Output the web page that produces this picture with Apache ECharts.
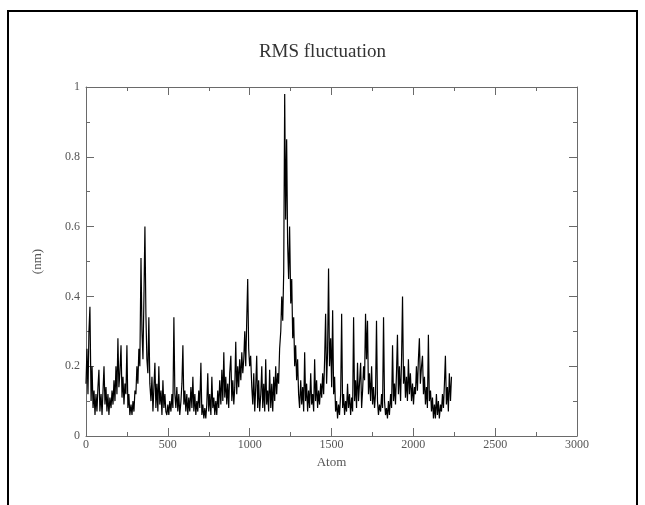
<!DOCTYPE html>
<html>
<head>
<meta charset="utf-8">
<script src="https://cdn.jsdelivr.net/npm/echarts@6/dist/echarts.min.js"></script>
<style>
html,body{margin:0;padding:0;background:#fff;}
#c{width:645px;height:505px;}
</style>
</head>
<body>
<div id="c"></div>
<script>
const titleText = 'RMS fluctuation';
const xName = 'Atom';
const yName = '(nm)';
const xTicks = [0, 500, 1000, 1500, 2000, 2500, 3000];
const yTicks = [0, 0.2, 0.4, 0.6, 0.8, 1];
const atomStep = 6.1;
const rmsf = [
0.15,0.25,0.12,0.30,0.37,0.10,0.20,
0.08,0.13,0.06,0.12,0.07,0.14,0.19,0.07,0.12,0.06,0.13,0.20,0.09,0.14,0.07,0.12,0.06,0.11,
0.08,0.13,0.09,0.16,0.10,0.20,0.12,0.28,0.14,0.18,0.26,0.11,0.17,0.09,0.15,0.12,0.26,
0.08,0.12,0.06,0.09,0.06,0.10,0.07,0.13,
0.12,0.20,0.15,0.25,0.20,0.51,0.30,0.22,0.40,0.60,0.35,0.22,0.18,0.34,0.15,
0.10,0.17,0.07,0.14,0.21,0.08,0.15,0.07,0.20,0.09,0.13,0.06,0.16,0.08,0.12,0.07,
0.06,0.09,0.06,0.10,0.07,0.12,0.08,
0.34,0.12,0.08,0.14,0.07,0.12,0.06,
0.10,0.15,0.26,0.09,0.13,0.07,0.12,0.06,
0.11,0.07,0.14,0.08,0.17,0.07,0.12,0.06,0.10,0.07,0.13,0.08,0.21,0.06,0.09,
0.05,0.08,0.05,0.09,0.18,0.07,0.12,0.06,0.17,0.08,0.11,0.06,
0.10,0.06,0.13,0.08,0.16,0.09,0.19,0.10,0.24,0.11,0.17,0.09,0.15,0.08,0.18,0.23,0.10,0.16,0.09,0.14,0.27,0.12,0.20,0.14,0.22,
0.16,0.24,0.18,0.22,0.30,0.20,0.33,0.45,0.25,0.20,0.23,0.14,
0.09,0.18,0.07,0.14,0.23,0.08,0.16,0.07,0.12,0.20,0.08,0.15,0.07,0.22,0.09,0.13,0.07,0.19,
0.08,0.15,0.07,0.17,0.10,0.20,0.12,0.18,0.15,0.25,0.30,0.40,0.33,0.47,
0.98,0.62,0.85,0.55,0.45,0.60,0.38,0.45,0.28,0.34,0.20,0.26,0.16,0.22,
0.12,0.08,0.16,0.09,0.14,0.07,0.24,0.10,0.15,0.07,0.13,0.08,0.18,0.09,0.12,0.07,0.22,0.10,0.16,0.08,0.13,0.09,0.15,
0.11,0.18,0.12,0.22,0.35,0.15,0.24,0.48,0.20,0.28,0.14,0.36,0.12,0.17,
0.07,0.10,0.05,0.09,0.06,0.12,
0.35,0.08,0.12,0.06,0.10,0.07,0.15,0.08,0.12,0.06,0.11,0.07,
0.34,0.10,0.16,0.08,0.21,0.10,0.15,0.21,0.08,0.13,
0.20,0.16,0.35,0.22,0.33,0.12,
0.18,0.10,0.20,0.09,0.14,0.08,0.12,
0.33,0.10,0.06,0.09,0.07,0.12,0.08,
0.34,0.10,0.06,0.08,0.05,0.10,0.06,0.12,0.08,
0.26,0.10,0.15,0.09,0.18,0.29,0.12,0.20,0.10,0.22,
0.40,0.15,0.20,0.11,0.17,0.10,0.22,0.12,0.18,0.10,0.15,0.09,0.14,
0.12,0.20,0.13,0.22,0.28,0.15,0.20,0.23,0.12,
0.17,0.09,0.14,0.08,0.29,0.10,0.13,
0.07,0.11,0.05,0.09,0.05,0.12,0.06,0.10,0.05,0.09,0.07,
0.12,0.08,0.15,0.23,0.09,0.14,0.07,0.18,0.10,0.17
];
const seriesData = rmsf.map((v, i) => [Math.round(i * atomStep), v]);

const axisColor = '#6a6a6a';
const labelStyle = {fontFamily: '"Liberation Serif", "DejaVu Serif", serif', fontSize: 12, color: '#555'};
const nameStyle = {fontFamily: '"Liberation Serif", "DejaVu Serif", serif', fontSize: 13, color: '#555'};
const lineSt = {show: true, onZero: false, lineStyle: {color: axisColor, width: 1}};
const tickSt = {show: true, inside: true, length: 8, lineStyle: {color: axisColor}};
const minorSt = {show: true, splitNumber: 2, length: 4, lineStyle: {color: axisColor}};

const chart = echarts.init(document.getElementById('c'), null, {renderer: 'canvas'});
chart.setOption({
  animation: false,
  backgroundColor: '#fff',
  title: {
    text: titleText, left: 'center', top: 38,
    textStyle: {fontFamily: '"Liberation Serif", serif', fontSize: 19, fontWeight: 'normal', color: '#333'}
  },
  grid: {left: 86, right: 68, top: 87, bottom: 69},
  xAxis: [{
    type: 'value', min: 0, max: 3000, interval: 500, position: 'bottom',
    name: xName, nameLocation: 'middle', nameGap: 18,
    nameTextStyle: nameStyle,
    axisLine: lineSt, axisTick: tickSt, minorTick: minorSt,
    splitLine: {show: false},
    axisLabel: Object.assign({margin: 3, formatter: v => xTicks.includes(v) ? String(v) : ''}, labelStyle)
  }, {
    type: 'value', min: 0, max: 3000, interval: 500, position: 'top',
    axisLine: lineSt, axisTick: tickSt, minorTick: minorSt,
    splitLine: {show: false},
    axisLabel: {show: false}
  }],
  yAxis: [{
    type: 'value', min: 0, max: 1, interval: 0.2, position: 'left',
    name: yName, nameLocation: 'middle', nameGap: 42, nameRotate: 90,
    nameTextStyle: nameStyle,
    axisLine: lineSt, axisTick: tickSt, minorTick: minorSt,
    splitLine: {show: false},
    axisLabel: Object.assign({margin: 6, formatter: v => {
      const t = yTicks.find(y => Math.abs(y - v) < 1e-9);
      return t === undefined ? '' : String(t);
    }}, labelStyle)
  }, {
    type: 'value', min: 0, max: 1, interval: 0.2, position: 'right',
    axisLine: lineSt, axisTick: tickSt, minorTick: minorSt,
    splitLine: {show: false},
    axisLabel: {show: false}
  }],
  series: [{
    type: 'line',
    data: seriesData,
    xAxisIndex: 0, yAxisIndex: 0,
    showSymbol: false,
    symbol: 'none',
    lineStyle: {color: '#000', width: 1.2},
    silent: true
  }],
  graphic: [{
    type: 'polyline',
    shape: {points: [[8, 505], [8, 11], [637, 11], [637, 505]]},
    style: {stroke: '#000', lineWidth: 2, fill: null}
  }]
});
</script>
</body>
</html>
